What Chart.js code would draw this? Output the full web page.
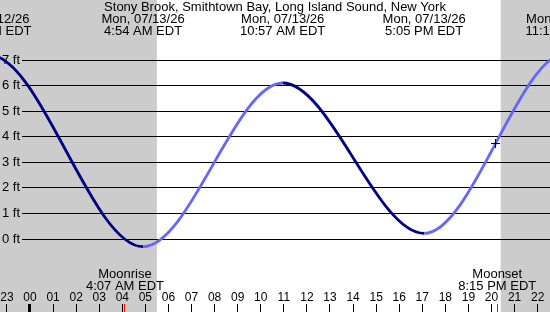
<!DOCTYPE html>
<html>
<head>
<meta charset="utf-8">
<script src="https://cdn.jsdelivr.net/npm/chart.js"></script>
<style>
html,body{margin:0;padding:0;background:#ffffff;}
#wrap{width:550px;height:312px;}
</style>
</head>
<body>
<div id="wrap"><canvas id="c" width="550" height="312"></canvas></div>
<script>
// ---- data (hours counted from Mon 07/13/26 00:00 EDT) ----
const stationTitle = 'Stony Brook, Smithtown Bay, Long Island Sound, New York';
// tide extremes (first and last are off-chart estimates, only used to shape the curve ends)
const tideHours = [-8.00, -1.78, 4.90, 10.95, 17.08, 23.30, 29.60];
const tideFeet  = [-0.10, 7.20, -0.30, 6.10, 0.22, 7.30, -0.20];
const tideDates = ['Sun, 07/12/26', 'Sun, 07/12/26', 'Mon, 07/13/26', 'Mon, 07/13/26', 'Mon, 07/13/26', 'Mon, 07/13/26', 'Tue, 07/14/26'];
const tideClock = ['4:00 PM EDT', '10:13 PM EDT', '4:54 AM EDT', '10:57 AM EDT', '5:05 PM EDT', '11:18 PM EDT', '5:36 AM EDT'];

const hourTicks  = [-1, 0, 1, 2, 3, 4, 5, 6, 7, 8, 9, 10, 11, 12, 13, 14, 15, 16, 17, 18, 19, 20, 21, 22];
const hourLabels = ['23', '00', '01', '02', '03', '04', '05', '06', '07', '08', '09', '10', '11', '12', '13', '14', '15', '16', '17', '18', '19', '20', '21', '22'];

const feetTicks  = [0, 1, 2, 3, 4, 5, 6, 7];
const feetLabels = ['0 ft', '1 ft', '2 ft', '3 ft', '4 ft', '5 ft', '6 ft', '7 ft'];

const moonHours = [4.117, 20.25];
const moonNames = ['Moonrise', 'Moonset'];
const moonClock = ['4:07 AM EDT', '8:15 PM EDT'];

const sunHours = [5.50, 20.40];      // sunrise, sunset
const nowHour  = [20.174];
const nowFeet  = [3.735];

const viewHours = [-1.30, 22.535];
const viewFeet  = [-2.542, 7.939];

// ---- styles ----
const FONT = "'Liberation Sans', Arial, Helvetica, sans-serif";
const NIGHT = '#cccccc';
const RISING = '#6666ff';
const FALLING = '#000080';

Chart.defaults.font.family = FONT;
Chart.defaults.color = '#000000';

const nightShade = {
  id: 'nightShade',
  beforeDraw(chart) {
    const {ctx, scales: {x}} = chart;
    const a = x.getPixelForValue(sunHours[0]);
    const b = x.getPixelForValue(sunHours[1]);
    ctx.save();
    ctx.fillStyle = NIGHT;
    ctx.fillRect(0, 0, a, chart.height);
    ctx.fillRect(b, 0, chart.width - b, chart.height);
    ctx.restore();
  }
};

const moonText = {
  id: 'moonText',
  afterDraw(chart) {
    const {ctx, chartArea, scales: {x}} = chart;
    ctx.save();
    ctx.font = '13px ' + FONT;
    ctx.fillStyle = '#000000';
    ctx.textAlign = 'center';
    ctx.textBaseline = 'middle';
    moonHours.forEach((h, i) => {
      const px = x.getPixelForValue(h);
      ctx.fillText(moonNames[i], px, chartArea.bottom - 30);
      ctx.fillText(moonClock[i], px, chartArea.bottom - 18);
    });
    ctx.restore();
  }
};

new Chart(document.getElementById('c'), {
  type: 'line',
  data: {
    datasets: [
      {
        order: 1,
        data: tideHours.map((h, i) => ({x: h, y: tideFeet[i]})),
        borderWidth: 2.8,
        borderColor: FALLING,
        pointRadius: 0,
        fill: false,
        cubicInterpolationMode: 'monotone',
        capBezierPoints: false,
        segment: {
          borderColor: c => (c.p1.parsed.y > c.p0.parsed.y ? RISING : FALLING)
        }
      },
      {
        order: 0,
        data: nowHour.map((h, i) => ({x: h, y: nowFeet[i]})),
        showLine: false,
        pointStyle: 'cross',
        pointRadius: 4.5,
        pointBorderColor: '#000000',
        pointBackgroundColor: '#000000',
        pointBorderWidth: 1
      }
    ]
  },
  options: {
    responsive: false,
    animation: false,
    devicePixelRatio: 1,
    layout: {padding: 0, autoPadding: false},
    plugins: {
      legend: {display: false},
      tooltip: {enabled: false},
      title: {
        display: true,
        text: stationTitle,
        color: '#000000',
        padding: 0,
        font: {size: 13, weight: 'normal', lineHeight: 14 / 13}
      }
    },
    scales: {
      x: {
        type: 'linear',
        position: 'bottom',
        min: viewHours[0],
        max: viewHours[1],
        afterBuildTicks: s => {
          s.ticks = hourTicks.concat(moonHours).sort((a, b) => a - b).map(v => ({value: v}));
        },
        afterFit: s => { s.paddingLeft = 0; s.paddingRight = 0; },
        border: {display: false},
        grid: {
          drawOnChartArea: false,
          drawTicks: true,
          tickLength: 8,
          tickColor: c => (c.tick && moonHours.includes(c.tick.value) ? '#ff0000' : '#000000'),
          tickWidth: c => (c.tick && c.tick.value === 0 ? 3 : 1)
        },
        ticks: {
          mirror: true,
          padding: 0,
          autoSkip: false,
          maxRotation: 0,
          minRotation: 0,
          color: '#000000',
          font: {size: 12, lineHeight: 1},
          callback: v => { const i = hourTicks.indexOf(v); return i >= 0 ? hourLabels[i] : ''; }
        }
      },
      xTop: {
        type: 'linear',
        position: 'top',
        min: viewHours[0],
        max: viewHours[1],
        afterBuildTicks: s => { s.ticks = tideHours.map(v => ({value: v})); },
        afterFit: s => { s.paddingLeft = 0; s.paddingRight = 0; },
        border: {display: false},
        grid: {display: false, drawTicks: false},
        ticks: {
          padding: -1,
          autoSkip: false,
          maxRotation: 0,
          minRotation: 0,
          color: '#000000',
          font: {size: 13, lineHeight: 12 / 13},
          callback: v => { const i = tideHours.indexOf(v); return i >= 0 ? [tideDates[i], tideClock[i]] : ''; }
        }
      },
      y: {
        type: 'linear',
        position: 'left',
        min: viewFeet[0],
        max: viewFeet[1],
        afterBuildTicks: s => { s.ticks = feetTicks.map(v => ({value: v})); },
        afterFit: s => { s.width = 0; s.paddingTop = 0; s.paddingBottom = 0; },
        border: {display: false},
        grid: {color: '#000000', lineWidth: 1, drawTicks: false},
        ticks: {
          mirror: true,
          crossAlign: 'far',
          padding: 2,
          color: '#000000',
          font: {size: 13},
          showLabelBackdrop: true,
          backdropColor: NIGHT,
          backdropPadding: {top: 0, bottom: 0, left: 2, right: 2},
          callback: v => { const i = feetTicks.indexOf(v); return i >= 0 ? feetLabels[i] : ''; }
        }
      }
    }
  },
  plugins: [nightShade, moonText]
});
</script>
</body>
</html>
